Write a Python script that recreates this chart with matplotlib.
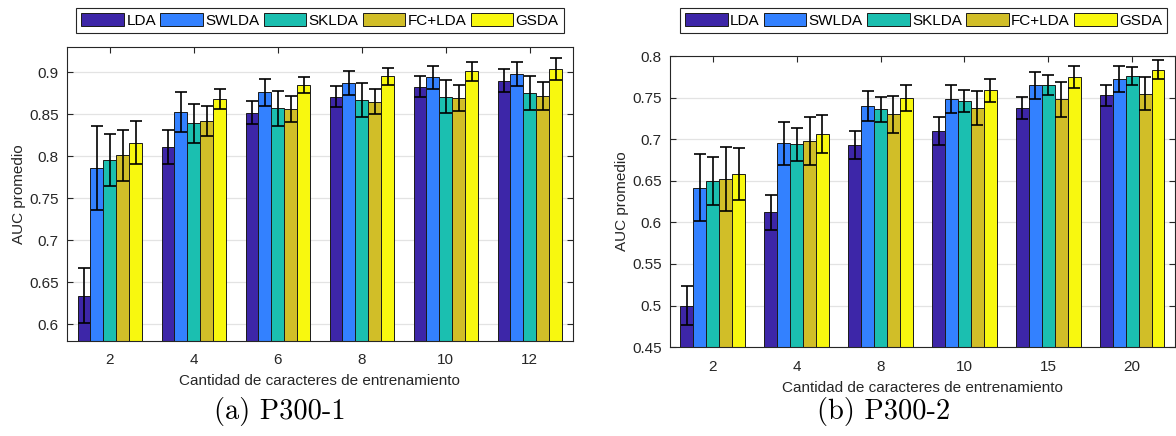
import matplotlib
matplotlib.use('Agg')
import matplotlib.pyplot as plt
import numpy as np

# Metodos y colores (parula)
metodos = ['LDA', 'SWLDA', 'SKLDA', 'FC+LDA', 'GSDA']
colores = ['#3D26A8', '#3381FF', '#1BBFB0', '#D1BE28', '#F8F80F']

# P300-1
caract1 = ['2', '4', '6', '8', '10', '12']
auc1 = [
    [0.634, 0.811, 0.852, 0.871, 0.883, 0.890],   # LDA
    [0.786, 0.853, 0.876, 0.887, 0.894, 0.898],   # SWLDA
    [0.795, 0.839, 0.857, 0.867, 0.871, 0.875],   # SKLDA
    [0.801, 0.842, 0.856, 0.865, 0.869, 0.872],   # FC+LDA
    [0.816, 0.868, 0.885, 0.895, 0.901, 0.904],   # GSDA
]
err1 = [
    [0.033, 0.020, 0.014, 0.0125, 0.0127, 0.014],
    [0.050, 0.024, 0.016, 0.0143, 0.0139, 0.0147],
    [0.031, 0.023, 0.021, 0.0197, 0.020, 0.0204],
    [0.030, 0.018, 0.0157, 0.015, 0.0155, 0.0165],
    [0.0254, 0.0123, 0.0094, 0.0103, 0.011, 0.0127],
]

# P300-2
caract2 = ['2', '4', '8', '10', '15', '20']
auc2 = [
    [0.500, 0.612, 0.693, 0.710, 0.738, 0.753],
    [0.642, 0.695, 0.740, 0.749, 0.765, 0.773],
    [0.650, 0.694, 0.736, 0.746, 0.765, 0.776],
    [0.652, 0.698, 0.730, 0.738, 0.748, 0.755],
    [0.658, 0.706, 0.750, 0.759, 0.775, 0.784],
]
err2 = [
    [0.024, 0.021, 0.0166, 0.0166, 0.0135, 0.0128],
    [0.040, 0.026, 0.018, 0.0168, 0.016, 0.0157],
    [0.029, 0.020, 0.0148, 0.013, 0.012, 0.0107],
    [0.0385, 0.0287, 0.022, 0.0207, 0.021, 0.020],
    [0.0315, 0.023, 0.0156, 0.014, 0.013, 0.0117],
]

plt.rcParams['font.family'] = ['Liberation Sans', 'DejaVu Sans']
fig = plt.figure(figsize=(11.76, 4.36), dpi=100)
fs = 11


def barras(ax, cats, auc, err, ylim, yticks, xleg):
    n = len(metodos)
    ancho = 0.154
    x = np.arange(1, len(cats) + 1)
    for j in range(n):
        pos = x + (j - (n - 1) / 2) * ancho
        ax.bar(pos, auc[j], ancho, color=colores[j], edgecolor='#1a1a1a',
               linewidth=0.7, label=metodos[j], zorder=2)
        ax.errorbar(pos, auc[j], yerr=err[j], fmt='none', ecolor='black',
                    elinewidth=1.2, capsize=4.5, capthick=1.2, zorder=3)
    ax.set_xlim(0.49, len(cats) + 0.51)
    ax.set_ylim(*ylim)
    ax.set_xticks(x)
    ax.set_xticklabels(cats)
    ax.set_yticks(yticks)
    ax.set_yticklabels(['%g' % v for v in yticks])
    ax.grid(axis='y', color='#e3e3e3', linewidth=0.9, zorder=0)
    ax.set_axisbelow(True)
    ax.tick_params('both', direction='in', top=True, right=True, length=4,
                   width=0.8, labelsize=fs, colors='#262626', pad=6)
    ax.tick_params('x', pad=9)
    for s in ax.spines.values():
        s.set_color('#262626')
        s.set_linewidth(0.8)
    ax.set_xlabel('Cantidad de caracteres de entrenamiento', fontsize=fs,
                  color='#262626', labelpad=5)
    ax.set_ylabel('AUC promedio', fontsize=fs, color='#262626', labelpad=2)
    h, l = ax.get_legend_handles_labels()
    leg = fig.legend(h, l, loc='upper center', bbox_to_anchor=(xleg, 1 - 8 / 436),
                     ncol=5, fontsize=fs, handlelength=2.8, handleheight=0.95,
                     handletextpad=0.15, columnspacing=0.27, borderpad=0.33,
                     fancybox=False, framealpha=1, borderaxespad=0)
    leg.get_frame().set_edgecolor('#262626')
    leg.get_frame().set_linewidth(0.8)


ax1 = fig.add_axes([0.057, 0.218, 0.430, 0.674])
barras(ax1, caract1, auc1, err1, (0.58, 0.93),
       [0.6, 0.65, 0.7, 0.75, 0.8, 0.85, 0.9], 320 / 1176)

ax2 = fig.add_axes([0.5697, 0.204, 0.4294, 0.667])
barras(ax2, caract2, auc2, err2, (0.45, 0.80),
       [0.45, 0.5, 0.55, 0.6, 0.65, 0.7, 0.75, 0.8], 923.5 / 1176)

fig.text(0.238, 0.057, '(a) P300-1', fontsize=20.5, family='cmr10',
         ha='center', va='center')
fig.text(0.751, 0.057, '(b) P300-2', fontsize=20.5, family='cmr10',
         ha='center', va='center')

fig.savefig('out.png', dpi=100)
